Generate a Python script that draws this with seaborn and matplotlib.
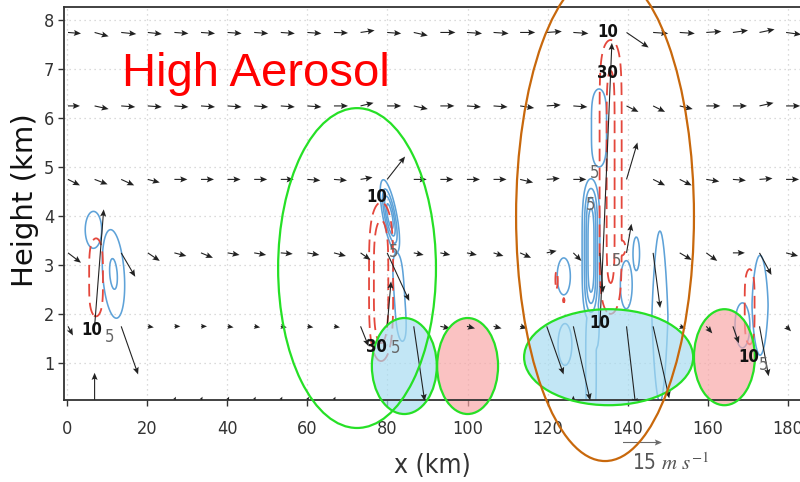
import numpy as np
import matplotlib
matplotlib.use("Agg")
import matplotlib.pyplot as plt
from matplotlib.patches import Ellipse
import seaborn as sns

# ---------------- wind vectors (tail at grid point, screen-scaled m/s) ----------------
x_vec = np.linspace(0.25, 179.5, 28)          # km
z_vec = [0.25, 1.75, 3.25, 4.75, 6.25, 7.75]  # km
nan = np.nan

u_025 = [nan, 0.0, nan, nan, 0.6, 0.6, 0.6, 0.6, 0.6, 0.6, 0.6, nan, nan, nan,
         nan, nan, nan, nan, nan, 0.0, nan, nan, nan, nan, nan, nan, nan, nan]
w_025 = [nan, 10.4, nan, nan, 1.2, 1.2, 1.2, 1.2, 1.2, 1.2, 1.2, nan, nan, nan,
         nan, nan, nan, nan, nan, 1.6, nan, nan, nan, nan, nan, nan, nan, nan]

u_175 = [1.9, 3.5, 6.5, 2.3, 2.3, 2.3, 2.3, 2.3, 2.3, 2.3, 2.3, 3.1, 1.5, 4.2,
         3.8, 3.1, 3.1, 2.7, 6.5, 6.5, 4.6, 3.5, 6.2, 2.3, 2.3, 2.3, 3.5, 1.9]
w_175 = [-3.5, 45.0, -18.5, -0.4, 0.0, 0.0, -0.4, -0.4, -0.4, -0.4, -0.4, -7.7, 17.3, -28.8,
         -0.8, -0.8, -0.8, -0.8, -18.5, -28.5, 109.0, -30.4, -27.7, -0.8, -2.7, -6.5, -19.2, -1.9]

u_325 = [5.0, nan, 5.4, 4.6, 4.6, 4.6, 4.6, 4.6, 4.6, 4.6, 4.6, 3.8, 8.5, 3.8,
         3.8, 3.8, 3.8, 4.2, 3.8, 3.1, 1.2, 1.9, 2.7, 4.6, 4.2, 4.6, 4.6, 4.6]
w_325 = [-3.8, nan, -9.2, -3.1, -1.2, -1.9, -0.8, -0.8, -0.4, -0.8, -1.2, -2.7, -18.5, -0.8,
         -0.8, -0.8, -1.2, -1.9, 0.8, -3.1, -15.4, 11.2, -21.2, -2.7, -3.1, 0.0, -8.5, -1.2]

u_475 = [4.6, 5.0, 5.0, 4.6, 5.0, 5.0, 5.0, 5.0, 5.0, 5.0, 5.0, 4.6, 6.9, 5.0,
         5.0, 5.0, 5.0, 5.0, 5.0, 5.0, nan, 4.2, 4.6, 4.6, 5.0, 5.0, 5.0, 5.0]
w_475 = [-2.3, -1.9, -2.3, -1.2, 0.0, 0.0, 0.0, 0.0, 0.0, -0.4, -0.4, 0.8, 8.8, 0.0,
         0.0, 0.0, 0.0, -1.2, 0.4, 0.0, nan, 14.2, -2.3, -2.3, -0.8, -0.4, 0.4, 0.0]

u_625 = [4.6, 5.4, 5.4, 5.4, 5.4, 5.4, 5.4, 5.4, 5.4, 5.4, 5.4, 5.0, 5.4, 5.4,
         5.4, 5.4, 5.4, 5.4, 5.4, 5.4, nan, 4.6, 4.6, 5.0, 5.4, 5.4, 5.4, 5.4]
w_625 = [0.0, -1.2, -0.4, -0.4, -0.4, -0.4, -0.4, -0.4, -0.4, -0.4, 0.0, 1.2, 0.0, -1.2,
         0.0, -0.4, -0.4, -0.8, 0.4, -0.4, nan, -2.3, -2.3, -1.2, 0.0, 0.0, 1.2, 0.0]

u_775 = [5.0, 5.4, 5.8, 5.4, 5.4, 5.4, 5.4, 5.4, 5.4, 5.4, 5.4, 5.4, 5.4, 5.4,
         5.8, 5.8, 5.8, 5.8, 5.8, 5.8, nan, 8.5, 5.8, 5.8, 5.8, 5.8, 5.8, 5.8]
w_775 = [-0.4, -1.5, -0.6, -0.6, -0.4, -0.4, -0.4, -0.4, -0.4, -0.4, -0.2, 0.8, -0.4, -1.2,
         0.0, -0.4, -0.4, 0.0, 0.4, -0.4, nan, -5.8, -0.4, -0.4, 0.4, 0.8, 1.2, -0.8]

ref_speed = 15  # m s-1, reference arrow

# ---------------- cloud cells: blue (solid) and red (dashed) fields ----------------
# each cell: centre (x0, z0), spread (sx, sz), peak, tilt (km of x per km of z), z-exponent
blue_x0 = [6.6, 11.6, 80.6, 83.0, 132.8, 130.8, 130.8, 132.2, 124.3, 124.0, 142.1, 139.6, 148.0, 173.0, 168.6]
blue_z0 = [3.72, 2.82, 4.0, 2.35, 5.8, 3.3, 1.0, 1.8, 1.38, 2.77, 3.23, 2.6, 1.95, 2.18, 1.77]
blue_sx = [2.5, 2.15, 1.0, 1.6, 2.3, 1.25, 1.6, 0.8, 2.1, 2.0, 1.0, 1.8, 2.44, 2.44, 2.26]
blue_sz = [0.46, 0.72, 0.42, 1.0, 0.88, 1.1, 1.3, 0.6, 0.52, 0.46, 0.42, 0.6, 2.43, 1.33, 0.56]
blue_amp = [7, 11, 24, 7, 7, 24, 7, 7, 7, 7, 7, 7, 7, 7, 7]
blue_tilt = [0, -0.8, -2.2, -0.8, 0, 0, 0, 0, 0, 0, 0, 0, 0, 0, 0]
blue_pz = [2, 2, 2, 4, 4, 4, 4, 2, 2, 2, 2, 2, 1.2, 1.5, 2]
blue_levels = [5, 10, 15, 20]

red_x0 = [7.25, 78.4, 135.7, 138.6, 122.2, 124.0, 170.4]
red_z0 = [2.75, 2.66, 4.8, 3.35, 2.7, 2.28, 2.15]
red_sx = [2.1, 1.62, 1.73, 1.3, 0.5, 0.35, 1.5]
red_sz = [0.88, 1.19, 2.49, 0.25, 0.3, 0.08, 0.85]
red_amp = [14, 55.6, 35.4, 12, 12, 12, 14]
red_tilt = [0, 0, 0, 0, 0, 0, 0]
red_pz = [4, 4, 8, 2, 2, 2, 4]
red_levels = [10, 30]

# contour value labels
bold_lab_x = [6.2, 77.3, 77.3, 135.0, 135.0, 133.0, 170.3]
bold_lab_z = [1.67, 4.39, 1.33, 7.76, 6.92, 1.82, 1.12]
bold_lab_val = [10, 10, 30, 10, 30, 10, 10]
gray_lab_x = [10.5, 81.9, 81.6, 131.8, 130.6, 137.3, 173.9]
gray_lab_z = [1.53, 1.31, 3.27, 4.88, 4.22, 3.08, 0.96]
gray_lab_val = [5, 5, 5, 5, 5, 5, 5]

# highlighted regions (centre x, centre z, width, height)
reg_cx = [72.4, 84.2, 100.0, 135.2, 164.1, 134.3]
reg_cz = [2.94, 0.94, 0.94, 1.12, 1.12, 4.0]
reg_w = [39.4, 16.2, 15.2, 42.2, 15.2, 44.4]
reg_h = [6.53, 1.96, 1.96, 1.96, 1.96, 10.0]
reg_kind = ["ring", "blue", "pink", "blue", "pink", "brown"]

xticks = list(range(0, 181, 20))
yticks = list(range(1, 9))


def blob_field(X, Z, x0, z0, sx, sz, amp, tilt, pz):
    field = np.zeros_like(X)
    for a, b, c, d, A, t, p in zip(x0, z0, sx, sz, amp, tilt, pz):
        dx = (X - (a + t * (Z - b))) / c
        dz = np.abs(Z - b) / d
        field = np.maximum(field, A * np.exp(-0.5 * (dx ** 2 + dz ** p)))
    return field


sns.set_theme(style="ticks")
plt.rcParams["font.family"] = ["DejaVu Sans"]
plt.rcParams["font.stretch"] = "condensed"
plt.rcParams["mathtext.fontset"] = "stix"

fig = plt.figure(figsize=(8, 4.82), dpi=100)
ax = fig.add_axes([0.08, 0.170, 0.92, 0.815])
ax.set_xlim(-0.75, 182.97)
ax.set_ylim(0.245, 8.265)

xg = np.linspace(-1, 184, 741)
zg = np.linspace(0.2, 8.3, 325)
XG, ZG = np.meshgrid(xg, zg)
blue_f = blob_field(XG, ZG, blue_x0, blue_z0, blue_sx, blue_sz, blue_amp, blue_tilt, blue_pz)
red_f = blob_field(XG, ZG, red_x0, red_z0, red_sx, red_sz, red_amp, red_tilt, red_pz)

ax.contour(XG, ZG, blue_f, levels=blue_levels, colors="#5ea2d8", linewidths=1.15, zorder=2)
cs_red = ax.contour(XG, ZG, red_f, levels=red_levels, colors="#e4473c", linewidths=1.3, zorder=2)
cs_red.set_linestyle((0, (7, 3.5)))

# highlighted regions
face = {"blue": "#a6dbf1", "pink": "#f8a6a6"}
for cx, cz, w, h, kind in zip(reg_cx, reg_cz, reg_w, reg_h, reg_kind):
    if kind in face:
        ax.add_patch(Ellipse((cx, cz), w, h, facecolor=face[kind], edgecolor="none",
                             alpha=0.68, zorder=2.5, clip_on=False))
    edge = "#c8680c" if kind == "brown" else "#26e026"
    ax.add_patch(Ellipse((cx, cz), w, h, facecolor="none", edgecolor=edge,
                         linewidth=1.6, zorder=5, clip_on=False))

# wind vectors
XV, ZV = np.meshgrid(x_vec, z_vec)
U = np.ma.masked_invalid(np.array([u_025, u_175, u_325, u_475, u_625, u_775]))
W = np.ma.masked_invalid(np.array([w_025, w_175, w_325, w_475, w_625, w_775]))
q = ax.quiver(XV, ZV, U, W, angles="uv", pivot="tail", scale=38.46, scale_units="inches",
              units="dots", width=1.1, headwidth=5.5, headlength=6.5, headaxislength=5.5,
              color="#222222", zorder=4)
ax.quiverkey(q, X=0.8025, Y=0.083, U=ref_speed, label="", coordinates="figure",
             color="#6a6a6a")
fig.text(0.790, 0.040, f"{ref_speed} $m\\ s^{{-1}}$", fontsize=15, color="#555555",
         ha="left", va="center")

for x, z, v in zip(bold_lab_x, bold_lab_z, bold_lab_val):
    ax.text(x, z, str(v), fontsize=12, fontweight="bold", color="#111111",
            ha="center", va="center", zorder=6)
for x, z, v in zip(gray_lab_x, gray_lab_z, gray_lab_val):
    ax.text(x, z, str(v), fontsize=12, color="#666666", ha="center", va="center", zorder=6)

ax.text(13.7, 6.65, "High Aerosol", color="#ff0000", fontsize=34, fontstretch="normal",
        family=["Liberation Sans", "DejaVu Sans"], ha="left", va="baseline", zorder=6)

# axes styling
ax.set_xticks(xticks)
ax.set_yticks(yticks)
ax.tick_params(axis="both", labelsize=13, colors="#333333", length=4, width=1.0)
ax.tick_params(axis="x", pad=10)
ax.tick_params(axis="y", pad=3)
ax.grid(True, color="#cfcfcf", linestyle=(0, (1, 3)), linewidth=0.9)
ax.set_axisbelow(True)
for side in ["left", "bottom", "top"]:
    ax.spines[side].set_color("#333333")
    ax.spines[side].set_linewidth(1.3)
ax.spines["right"].set_visible(False)

fig.text(0.031, 0.585, "Height (km)", rotation=90, fontsize=21, color="#111111",
         fontstretch="normal", ha="center", va="center")
fig.text(0.541, 0.033, "x (km)", fontsize=19, color="#333333", ha="center", va="center")

fig.savefig("out.png", dpi=100)
